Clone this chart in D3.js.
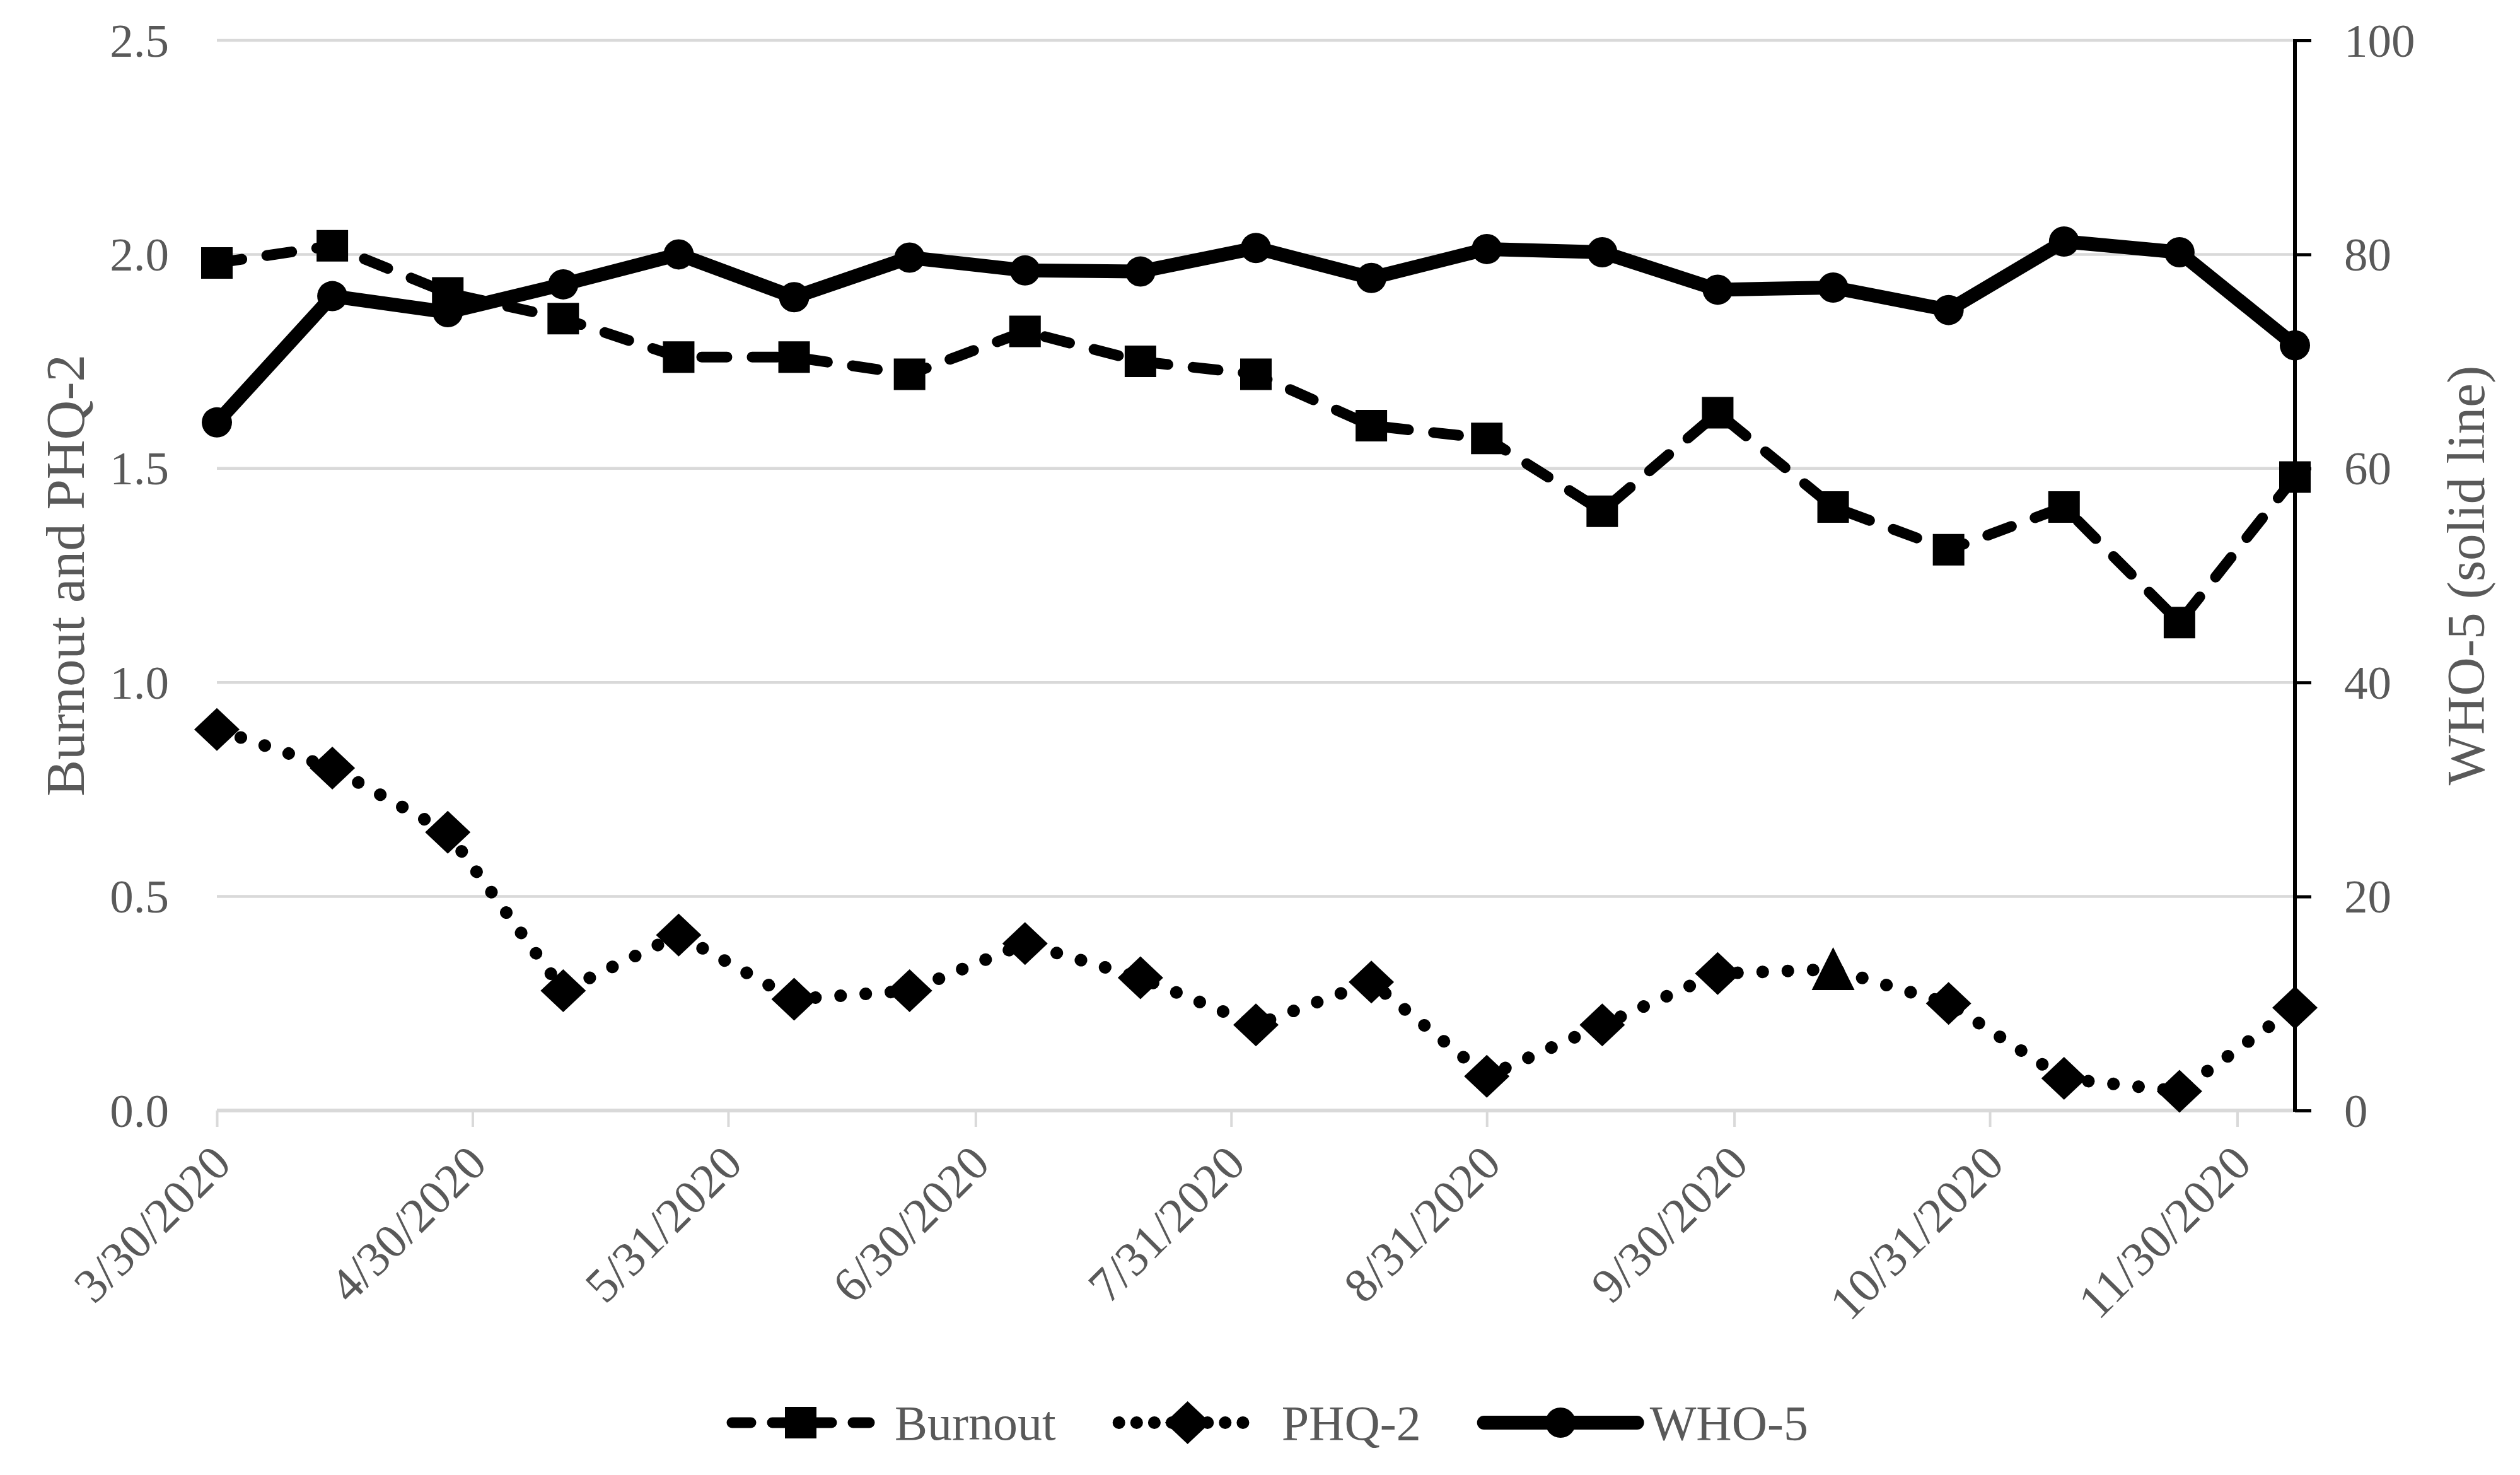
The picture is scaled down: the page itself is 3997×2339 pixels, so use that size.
<!DOCTYPE html>
<html>
<head>
<meta charset="utf-8">
<script src="https://cdnjs.cloudflare.com/ajax/libs/d3/7.8.5/d3.min.js"></script>
<style>
  html, body { margin: 0; padding: 0; background: #ffffff; }
  svg { display: block; }
</style>
</head>
<body>
<svg id="chart" width="3997" height="2339"></svg>
<script>
// ---------------- DATA ----------------
const dates = ["2020-03-30","2020-04-13","2020-04-27","2020-05-11","2020-05-25","2020-06-08","2020-06-22",
               "2020-07-06","2020-07-20","2020-08-03","2020-08-17","2020-08-31","2020-09-14","2020-09-28",
               "2020-10-12","2020-10-26","2020-11-09","2020-11-23","2020-12-07"];
const burnout = [1.98, 2.02, 1.91, 1.85, 1.76, 1.76, 1.72, 1.82, 1.75, 1.72, 1.60, 1.57, 1.40, 1.63, 1.41, 1.31, 1.41, 1.14, 1.48];
const phq2    = [0.89, 0.80, 0.65, 0.28, 0.41, 0.26, 0.28, 0.39, 0.31, 0.20, 0.30, 0.08, 0.20, 0.32, 0.33, 0.25, 0.075, 0.045, 0.24];
const who5    = [64.3, 76.1, 74.6, 77.2, 80.0, 76.0, 79.7, 78.5, 78.4, 80.6, 77.8, 80.5, 80.2, 76.7, 76.9, 74.8, 81.2, 80.2, 71.5];
const phq2Markers = ["diamond","diamond","diamond","diamond","diamond","diamond","diamond","diamond","diamond","diamond",
                     "diamond","diamond","diamond","diamond","triangle","diamond","diamond","diamond","diamond"];
const xTickLabels = ["3/30/2020","4/30/2020","5/31/2020","6/30/2020","7/31/2020","8/31/2020","9/30/2020","10/31/2020","11/30/2020"];
const xDomain = ["2020-03-30","2020-12-07"];
const leftTicks = [0, 0.5, 1.0, 1.5, 2.0, 2.5];
const rightTicks = [0, 20, 40, 60, 80, 100];
const seriesNames = ["Burnout", "PHQ-2", "WHO-5"];
const leftTitle = "Burnout and PHQ-2";
const rightTitle = "WHO-5 (solid line)";

// ---------------- LAYOUT ----------------
const W = 3997, H = 2339;
const plot = { left: 344, right: 3640, top: 64, bottom: 1761 };
const textColor = "#595959";
const gridColor = "#d9d9d9";
const font = "'Liberation Serif', 'Times New Roman', serif";

const parseISO = d3.utcParse("%Y-%m-%d");
const parseMDY = d3.utcParse("%m/%d/%Y");

const x = d3.scaleUtc().domain(xDomain.map(parseISO)).range([plot.left, plot.right]);
const yL = d3.scaleLinear().domain([0, 2.5]).range([plot.bottom, plot.top]);
const yR = d3.scaleLinear().domain([0, 100]).range([plot.bottom, plot.top]);

const svg = d3.select("#chart");
svg.append("rect").attr("width", W).attr("height", H).attr("fill", "#ffffff");

// gridlines (left axis)
svg.append("g").selectAll("line").data(leftTicks.filter(d => d > 0)).join("line")
  .attr("x1", plot.left).attr("x2", plot.right)
  .attr("y1", d => yL(d)).attr("y2", d => yL(d))
  .attr("stroke", gridColor).attr("stroke-width", 4.5);

// left tick labels
svg.append("g").selectAll("text").data(leftTicks).join("text")
  .attr("x", 268).attr("y", d => yL(d)).attr("dy", "0.34em")
  .attr("text-anchor", "end")
  .attr("font-family", font).attr("font-size", 75).attr("fill", textColor)
  .text(d => d3.format(".1f")(d));

// x axis using d3 axis
const xTickDates = xTickLabels.map(parseMDY);
const xAxis = d3.axisBottom(x).tickValues(xTickDates).tickSize(26).tickFormat("");
const gx = svg.append("g").attr("transform", `translate(0,${plot.bottom})`).call(xAxis);
gx.select(".domain").remove();
gx.selectAll(".tick line").attr("stroke", gridColor).attr("stroke-width", 4);
svg.append("line")
  .attr("x1", plot.left).attr("x2", plot.right)
  .attr("y1", plot.bottom).attr("y2", plot.bottom)
  .attr("stroke", gridColor).attr("stroke-width", 6);

// x tick labels rotated
svg.append("g").selectAll("text").data(xTickLabels).join("text")
  .attr("transform", d => `translate(${x(parseMDY(d)) + 26},${plot.bottom + 88}) rotate(-45)`)
  .attr("text-anchor", "end")
  .attr("font-family", font).attr("font-size", 77).attr("fill", textColor)
  .text(d => d);

// right axis
const yAxisR = d3.axisRight(yR).tickValues(rightTicks).tickSize(26).tickFormat("");
const gr = svg.append("g").attr("transform", `translate(${plot.right},0)`).call(yAxisR);
gr.select(".domain").attr("stroke", "#000").attr("stroke-width", 6).attr("d", `M0,${plot.top - 2}V${plot.bottom + 2}`);
gr.selectAll(".tick line").attr("stroke", "#000").attr("stroke-width", 5);
svg.append("g").selectAll("text").data(rightTicks).join("text")
  .attr("x", 3718).attr("y", d => yR(d)).attr("dy", "0.34em")
  .attr("text-anchor", "start")
  .attr("font-family", font).attr("font-size", 75).attr("fill", textColor)
  .text(d => d3.format("d")(d));

// axis titles
svg.append("text")
  .attr("transform", `translate(133,${(plot.top + plot.bottom) / 2}) rotate(-90)`)
  .attr("text-anchor", "middle")
  .attr("font-family", font).attr("font-size", 87).attr("fill", textColor)
  .text(leftTitle);
svg.append("text")
  .attr("transform", `translate(3940,${(plot.top + plot.bottom) / 2}) rotate(-90)`)
  .attr("text-anchor", "middle")
  .attr("font-family", font).attr("font-size", 85).attr("fill", textColor)
  .text(rightTitle);

// ---------------- SERIES ----------------
const pts = dates.map(parseISO);
const styles = {
  burnout: { width: 17, dash: "40,40" },
  phq2: { width: 20, dash: "0.1,39.9" },
  who5: { width: 22, dash: null }
};

function symbolPath(type) {
  if (type === "square") return "M-25,-25H25V25H-25Z";
  if (type === "diamond") return "M0,-34L36,0L0,34L-36,0Z";
  if (type === "triangle") return "M0,-35L34,33L-34,33Z";
  if (type === "circle") return "M-24,0A24,24 0 1,0 24,0A24,24 0 1,0 -24,0Z";
  return "";
}

function drawSeries(values, yScale, style, markerFn) {
  const g = svg.append("g");
  const line = d3.line().x((d, i) => x(pts[i])).y(d => yScale(d));
  const p = g.append("path").datum(values).attr("d", line)
    .attr("fill", "none").attr("stroke", "#000")
    .attr("stroke-width", style.width)
    .attr("stroke-linejoin", "round").attr("stroke-linecap", "round");
  if (style.dash) p.attr("stroke-dasharray", style.dash);
  g.selectAll("path.m").data(values).join("path").attr("class", "m")
    .attr("transform", (d, i) => `translate(${x(pts[i])},${yScale(d)})`)
    .attr("d", (d, i) => symbolPath(markerFn(i)))
    .attr("fill", "#000");
}

drawSeries(burnout, yL, styles.burnout, () => "square");
drawSeries(phq2, yL, styles.phq2, i => phq2Markers[i]);
drawSeries(who5, yR, styles.who5, () => "circle");

// ---------------- LEGEND ----------------
const legendY = 2256;
const legendItems = [
  { name: seriesNames[0], style: styles.burnout, marker: "square" },
  { name: seriesNames[1], style: styles.phq2, marker: "diamond" },
  { name: seriesNames[2], style: styles.who5, marker: "circle" }
];
const lineLen = [218, 218, 243];
const textGap = [40, 40, 20];
let lx = 1161;
const lg = svg.append("g");
legendItems.forEach((it, k) => {
  const len = lineLen[k];
  const l = lg.append("line").attr("x1", lx).attr("x2", lx + len)
    .attr("y1", legendY).attr("y2", legendY)
    .attr("stroke", "#000").attr("stroke-width", it.style.width)
    .attr("stroke-linecap", "round");
  if (it.style.dash) {
    if (it.marker === "square") l.attr("stroke-dasharray", "30,34");
    else l.attr("stroke-dasharray", "0.1,28");
  }
  lg.append("path").attr("transform", `translate(${lx + len / 2},${legendY})`)
    .attr("d", symbolPath(it.marker)).attr("fill", "#000");
  const t = lg.append("text").attr("x", lx + len + textGap[k]).attr("y", legendY).attr("dy", "0.34em")
    .attr("font-family", font).attr("font-size", 78).attr("fill", textColor)
    .text(it.name);
  lx = lx + len + textGap[k] + t.node().getComputedTextLength() + 100;
});
</script>
</body>
</html>
